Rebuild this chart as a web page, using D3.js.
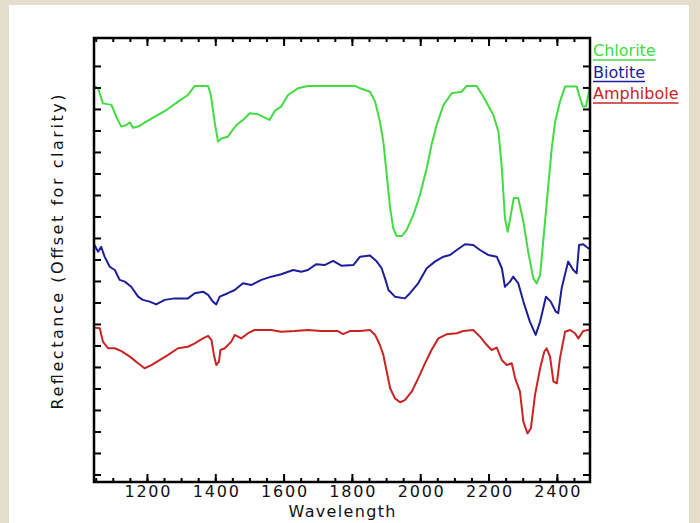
<!DOCTYPE html>
<html>
<head>
<meta charset="utf-8">
<script src="https://cdn.jsdelivr.net/npm/d3@7"></script>
<style>
  body { margin: 0; background: #e4ddcb; }
  svg { display: block; }
  text { font-family: "DejaVu Sans", sans-serif; }
</style>
</head>
<body>
<svg width="700" height="523"></svg>
<script>
// spectra: [wavelength (nm), reflectance with offset]
const chlorite = [[1045,1.808],[1057,1.796],[1071,1.726],[1096,1.719],[1110,1.664],[1125,1.618],[1140,1.625],[1150,1.638],[1159,1.613],[1174,1.618],[1198,1.641],[1223,1.664],[1257,1.695],[1291,1.734],[1320,1.765],[1340,1.807],[1379,1.807],[1387,1.765],[1398,1.641],[1408,1.548],[1418,1.563],[1437,1.571],[1447,1.594],[1462,1.625],[1481,1.649],[1501,1.680],[1525,1.675],[1559,1.649],[1574,1.691],[1593,1.711],[1613,1.765],[1642,1.796],[1671,1.807],[1809,1.807],[1824,1.796],[1853,1.780],[1868,1.734],[1882,1.641],[1892,1.548],[1902,1.393],[1912,1.238],[1921,1.145],[1931,1.109],[1946,1.109],[1960,1.137],[1980,1.207],[1999,1.300],[2019,1.424],[2033,1.532],[2048,1.625],[2068,1.718],[2092,1.773],[2121,1.780],[2136,1.807],[2165,1.807],[2185,1.757],[2214,1.672],[2229,1.594],[2239,1.424],[2248,1.192],[2256,1.129],[2265,1.207],[2274,1.287],[2287,1.285],[2302,1.176],[2316,1.036],[2331,0.912],[2341,0.889],[2351,0.928],[2360,1.083],[2375,1.346],[2385,1.517],[2395,1.641],[2409,1.734],[2424,1.804],[2458,1.804],[2468,1.750],[2476,1.711],[2485,1.711],[2492,1.765],[2497,1.800]];
const biotite = [[1045,1.071],[1057,1.036],[1066,1.059],[1076,1.013],[1091,0.966],[1106,0.951],[1120,0.905],[1135,0.897],[1154,0.873],[1174,0.827],[1188,0.812],[1208,0.804],[1227,0.791],[1252,0.812],[1281,0.819],[1320,0.819],[1340,0.843],[1364,0.850],[1379,0.835],[1393,0.804],[1403,0.791],[1413,0.827],[1437,0.843],[1457,0.858],[1481,0.889],[1505,0.881],[1535,0.905],[1564,0.920],[1593,0.931],[1628,0.951],[1652,0.943],[1671,0.951],[1696,0.978],[1720,0.974],[1745,0.993],[1769,0.971],[1804,0.974],[1824,1.013],[1853,1.018],[1873,0.990],[1887,0.959],[1897,0.912],[1907,0.858],[1926,0.827],[1955,0.819],[1970,0.843],[1994,0.889],[2019,0.959],[2043,0.990],[2068,1.013],[2087,1.021],[2107,1.044],[2131,1.071],[2155,1.067],[2175,1.044],[2199,1.021],[2224,1.013],[2239,0.959],[2248,0.873],[2263,0.897],[2272,0.920],[2287,0.889],[2302,0.804],[2321,0.711],[2338,0.649],[2351,0.711],[2368,0.827],[2382,0.804],[2397,0.757],[2404,0.750],[2414,0.866],[2433,0.990],[2448,0.951],[2458,0.936],[2465,1.067],[2477,1.071],[2492,1.052],[2497,1.050]];
const amphibole = [[1045,0.683],[1062,0.680],[1071,0.618],[1086,0.587],[1106,0.587],[1125,0.574],[1150,0.548],[1174,0.517],[1193,0.494],[1213,0.509],[1237,0.532],[1262,0.556],[1291,0.587],[1320,0.594],[1340,0.610],[1364,0.633],[1379,0.645],[1389,0.625],[1396,0.556],[1403,0.509],[1411,0.525],[1415,0.579],[1428,0.587],[1447,0.618],[1457,0.649],[1476,0.633],[1496,0.657],[1515,0.672],[1564,0.672],[1593,0.664],[1632,0.667],[1671,0.672],[1710,0.667],[1759,0.667],[1774,0.653],[1794,0.667],[1824,0.667],[1853,0.672],[1868,0.649],[1882,0.602],[1892,0.556],[1902,0.478],[1912,0.401],[1926,0.354],[1941,0.336],[1955,0.346],[1975,0.385],[1994,0.447],[2014,0.517],[2033,0.579],[2053,0.633],[2077,0.652],[2107,0.657],[2126,0.667],[2155,0.672],[2175,0.641],[2195,0.602],[2209,0.579],[2224,0.590],[2239,0.532],[2253,0.509],[2268,0.517],[2278,0.447],[2292,0.385],[2302,0.245],[2314,0.191],[2324,0.215],[2336,0.370],[2351,0.494],[2363,0.571],[2370,0.587],[2380,0.548],[2390,0.432],[2400,0.424],[2409,0.540],[2424,0.664],[2439,0.672],[2453,0.657],[2463,0.633],[2477,0.667],[2492,0.672],[2497,0.672]];

const minerals = ['Chlorite', 'Biotite', 'Amphibole'];
const xMajor = [1200, 1400, 1600, 1800, 2000, 2200, 2400];
const xMinor = d3.range(1050, 2500, 50);
const yTicks = d3.range(0, 20).map(i => i / 10);

const series = [chlorite, biotite, amphibole];
const colors = ['#42dc42', '#1e1e98', '#c82424'];

const svg = d3.select('svg');
svg.append('rect').attr('width', 700).attr('height', 523).attr('fill', '#e4ddcb');
svg.append('rect').attr('x', 9).attr('y', 5).attr('width', 680).attr('height', 518).attr('fill', 'white');

const pLeft = 94, pRight = 590, pTop = 38, pBottom = 482;
const x = d3.scaleLinear().domain([1045, 2497]).range([pLeft, pRight]);
const y = d3.scaleLinear().domain([-0.035, 2.03]).range([pBottom, pTop]);

// curves
const line = d3.line().x(d => x(d[0])).y(d => y(d[1]));
svg.append('g').selectAll('path')
    .data(series)
    .join('path')
    .attr('d', line)
    .attr('fill', 'none')
    .attr('stroke', (d, i) => colors[i])
    .attr('stroke-width', 2)
    .attr('stroke-linejoin', 'round');

// ticks, all pointing inward
function ticks(axis, g) {
    g.call(axis);
    g.select('.domain').remove();
    g.selectAll('line').attr('stroke', 'black').attr('stroke-width', 2);
}
svg.append('g').attr('transform', `translate(0,${pBottom})`)
    .call(g => ticks(d3.axisBottom(x).tickValues(xMinor).tickSize(-4).tickFormat(''), g));
svg.append('g').attr('transform', `translate(0,${pTop})`)
    .call(g => ticks(d3.axisTop(x).tickValues(xMinor).tickSize(-4).tickFormat(''), g));
svg.append('g').attr('transform', `translate(0,${pTop})`)
    .call(g => ticks(d3.axisTop(x).tickValues(xMajor).tickSize(-8).tickFormat(''), g));

const xAxis = svg.append('g').attr('transform', `translate(0,${pBottom})`)
    .call(g => ticks(d3.axisBottom(x).tickValues(xMajor).tickSize(-8).tickPadding(4).tickFormat(d3.format('d')), g));
xAxis.selectAll('text')
    .attr('font-size', 16)
    .attr('fill', '#111')
    .attr('letter-spacing', 1.8)
    .attr('dx', 0.9)
    .attr('dy', '0.71em');

svg.append('g').attr('transform', `translate(${pLeft},0)`)
    .call(g => ticks(d3.axisLeft(y).tickValues(yTicks).tickSize(-7).tickFormat(''), g));
svg.append('g').attr('transform', `translate(${pRight},0)`)
    .call(g => ticks(d3.axisRight(y).tickValues(yTicks).tickSize(-7).tickFormat(''), g));

// frame
svg.append('rect')
    .attr('x', pLeft).attr('y', pTop)
    .attr('width', pRight - pLeft).attr('height', pBottom - pTop)
    .attr('fill', 'none').attr('stroke', 'black').attr('stroke-width', 2.5);

// axis titles
svg.append('text')
    .text('Wavelength')
    .attr('x', (pLeft + pRight) / 2).attr('y', 517)
    .attr('text-anchor', 'middle')
    .attr('font-size', 16).attr('fill', '#111')
    .attr('textLength', 107).attr('lengthAdjust', 'spacing');

svg.append('text')
    .text('Reflectance (Offset for clarity)')
    .attr('transform', 'translate(63,252) rotate(-90)')
    .attr('text-anchor', 'middle')
    .attr('font-size', 16).attr('fill', '#111')
    .attr('textLength', 315).attr('lengthAdjust', 'spacing');

// legend with underlines
const legend = svg.append('g').selectAll('g')
    .data(minerals)
    .join('g')
    .attr('transform', (d, i) => `translate(593, ${56 + i * 21.5})`);
legend.append('text')
    .text(d => d)
    .attr('font-size', 16)
    .attr('fill', (d, i) => colors[i]);
legend.append('line')
    .attr('x1', 0)
    .attr('x2', function () { return this.parentNode.querySelector('text').getComputedTextLength(); })
    .attr('y1', 4).attr('y2', 4)
    .attr('stroke', (d, i) => colors[i])
    .attr('stroke-width', 1.5);
</script>
</body>
</html>
